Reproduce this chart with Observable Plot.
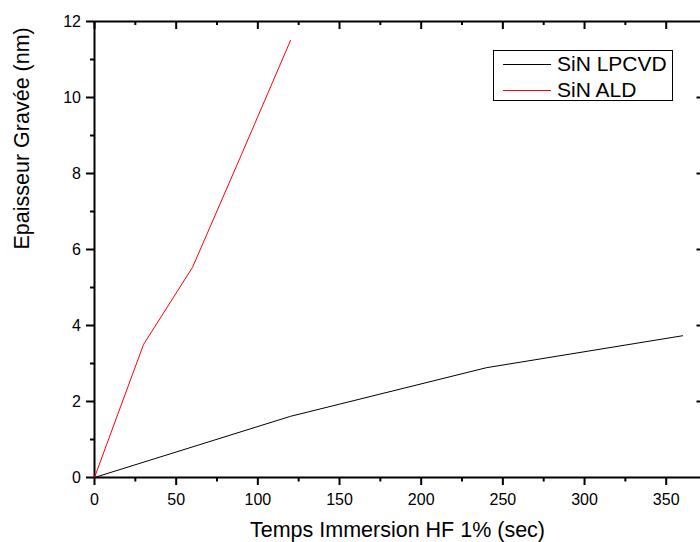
<!DOCTYPE html>
<html>
<head>
<meta charset="utf-8">
<script src="https://cdn.jsdelivr.net/npm/d3@7"></script>
<script src="https://cdn.jsdelivr.net/npm/@observablehq/plot@0.6"></script>
<style>
  html, body { margin: 0; padding: 0; background: #fff; overflow: hidden; }
  #wrap { position: relative; width: 700px; height: 542px; font-family: "Liberation Sans", Arial, sans-serif; }
  #legend { position: absolute; left: 493px; top: 50px; width: 180px; height: 51px; border: 1px solid #000; box-sizing: border-box; background: #fff; }
  .row { position: absolute; left: 0; height: 26px; display: flex; align-items: center; }
  .swatch { display: inline-block; margin-left: 9px; width: 48px; height: 0; border-top: 1px solid; }
  .lab { margin-left: 6px; font-size: 21px; color: #000; white-space: nowrap; }
</style>
</head>
<body>
<div id="wrap"></div>
<script>
// ---- data ----
const seriesNames = ["SiN LPCVD", "SiN ALD"];
const seriesColors = ["#000000", "#ff0000"];
const timeLPCVD = [0, 120, 240, 360];
const depthLPCVD = [0, 1.61, 2.89, 3.73];
const timeALD = [0, 30, 60, 90, 120];
const depthALD = [0, 3.5, 5.53, 8.5, 11.5];
const xTicks = [0, 50, 100, 150, 200, 250, 300, 350];
const xMinorTicks = [25, 75, 125, 175, 225, 275, 325];
const yTicks = [0, 2, 4, 6, 8, 10, 12];
const yMinorTicks = [1, 3, 5, 7, 9, 11];
const xTitle = "Temps Immersion HF 1% (sec)";
const yTitle = "Epaisseur Gravée (nm)";

const W = 700, H = 542, mT = 21, mB = 65, mL = 94, mR = 0;
const plotW = W - mL - mR, plotH = H - mT - mB;

const lpcvd = timeLPCVD.map((t, i) => ({t, v: depthLPCVD[i]}));
const ald = timeALD.map((t, i) => ({t, v: depthALD[i]}));

const chart = Plot.plot({
  width: W, height: H,
  marginTop: mT, marginBottom: mB, marginLeft: mL, marginRight: mR,
  x: {domain: [0, 371]},
  y: {domain: [0, 12]},
  style: {fontFamily: "'Liberation Sans', Arial, sans-serif", fontSize: "16px", color: "#000", background: "#fff", overflow: "visible"},
  marks: [
    // frame (left, bottom, top)
    Plot.ruleX([0], {stroke: "#000", strokeWidth: 2}),
    Plot.ruleY([0, 12], {stroke: "#000", strokeWidth: 2}),
    // bottom axis
    Plot.axisX({ticks: xTicks, tickSize: 8, tickPadding: 8, strokeWidth: 2, fontSize: 16, label: null, tickFormat: d => String(d)}),
    Plot.axisX({ticks: xMinorTicks, tickSize: 4.5, strokeWidth: 2, label: null, tickFormat: () => ""}),
    // left axis
    Plot.axisY({ticks: yTicks, tickSize: 8, tickPadding: 5.5, strokeWidth: 2, fontSize: 16, label: null, tickFormat: d => String(d)}),
    Plot.axisY({ticks: yMinorTicks, tickSize: 4, strokeWidth: 2, label: null, tickFormat: () => ""}),
    // top inward ticks
    Plot.tickX(xTicks, {x: d => d, insetBottom: plotH - 8, stroke: "#000", strokeWidth: 2}),
    Plot.tickX(xMinorTicks, {x: d => d, insetBottom: plotH - 4, stroke: "#000", strokeWidth: 2}),
    // right inward ticks (frame edge just off-canvas)
    Plot.tickY(yTicks.filter(v => v > 0 && v < 12), {y: d => d, insetLeft: plotW - 3.5, stroke: "#000", strokeWidth: 2}),
    // data
    Plot.line(lpcvd, {x: "t", y: "v", stroke: seriesColors[0], strokeWidth: 1}),
    Plot.line(ald, {x: "t", y: "v", stroke: seriesColors[1], strokeWidth: 1}),
    // axis titles
    Plot.text([xTitle], {frameAnchor: "bottom", text: d => d, dy: 52.5, fontSize: 21.5, lineAnchor: "middle", fill: "#000"}),
    Plot.text([yTitle], {frameAnchor: "left", text: d => d, dx: -72.5, rotate: -90, fontSize: 21.5, lineAnchor: "middle", fill: "#000"})
  ]
});

const wrap = document.getElementById("wrap");
wrap.appendChild(chart);

// legend
const legend = document.createElement("div");
legend.id = "legend";
seriesNames.forEach((name, i) => {
  const row = document.createElement("div");
  row.className = "row";
  row.style.top = (i * 26) + "px";
  const sw = document.createElement("span");
  sw.className = "swatch";
  sw.style.borderTopColor = seriesColors[i];
  const lab = document.createElement("span");
  lab.className = "lab";
  lab.textContent = name;
  row.appendChild(sw);
  row.appendChild(lab);
  legend.appendChild(row);
});
wrap.appendChild(legend);
</script>
</body>
</html>
